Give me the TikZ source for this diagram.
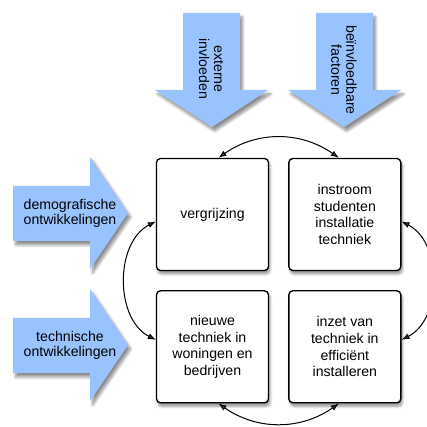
\documentclass[tikz,border=0pt]{standalone}
\usepackage{fontspec}
\setmainfont{Liberation Sans}
\usetikzlibrary{arrows.meta,positioning,shadows.blur}
\definecolor{Factor}{HTML}{99C3FF}

\begin{document}
\begin{tikzpicture}[
  x=0.75pt, y=0.75pt,
  >={Latex[length=6pt,width=4.5pt]},
  node distance=14.25pt,
  every node/.style={font=\fontsize{10.6}{12.5}\selectfont},
  mybox/.style={
    draw=black,
    line width=1pt,
    rounded corners=3pt,
    fill=white,
    align=center,
    inner sep=2pt,
    minimum size=84pt,
    blur shadow={shadow xshift=1pt, shadow yshift=-2.5pt, shadow blur steps=6, shadow opacity=45}
  },
  myarrow/.style={
    fill=Factor,
    blur shadow={shadow xshift=2pt, shadow yshift=-3pt, shadow blur steps=6, shadow opacity=45}
  },
  arrowtext/.style={align=center, font=\fontsize{10.6}{11.25}\selectfont}
]
\useasboundingbox (0,0) rectangle (426,427);

% Factoren van buiten
\fill[myarrow] (183,414) -- (240,414) -- (240,337) -- (268,337) -- (212,300) -- (155,337) -- (183,337) -- cycle;
\fill[myarrow] (316,414) -- (373,414) -- (373,337) -- (401,337) -- (344,300) -- (288,337) -- (316,337) -- cycle;
\fill[myarrow] (13,241) -- (90,241) -- (90,270) -- (128,214) -- (90,158) -- (90,186) -- (13,186) -- cycle;
\fill[myarrow] (13,109) -- (90,109) -- (90,138) -- (128,82) -- (90,26) -- (90,54) -- (13,54) -- cycle;

\node[arrowtext, rotate=-90] (extern) at (211,358) {externe\\invloeden};
\node[arrowtext, rotate=-90] (beinv) at (344,357) {beïnvloedbare\\factoren};
\node[arrowtext] (demo) at (70,213.5) {demografische\\ontwikkelingen};
\node[arrowtext] (techn) at (70,82) {technische\\ontwikkelingen};

% Vier blokken
\node[mybox] (verg) at (212.5,212.5) {vergrijzing};
\node[mybox, right=of verg] (instr) {instroom\\studenten\\installatie\\techniek};
\node[mybox, below=of verg] (nieuw) {nieuwe\\techniek in\\woningen en\\bedrijven};
\node[mybox, right=of nieuw] (inzet) {inzet van\\techniek in\\efficiënt\\installeren};

% Verbindingen
\draw[<->, line width=0.75pt] (verg.84) to[out=35, in=145] (instr.96);
\draw[<->, line width=0.75pt] (verg.187) to[out=207, in=153] (nieuw.173);
\draw[<->, line width=0.75pt] (instr.353) to[out=-27, in=27] (inzet.7);
\draw[<->, line width=0.75pt] (nieuw.276) to[out=-35, in=-145] (inzet.264);
\end{tikzpicture}
\end{document}
